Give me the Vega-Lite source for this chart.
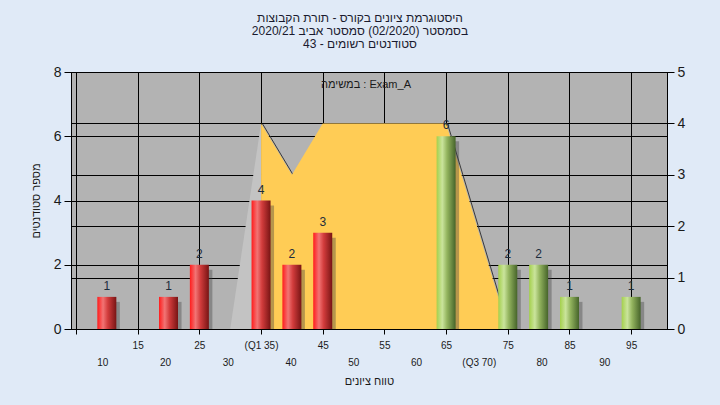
{
  "$schema": "https://vega.github.io/schema/vega-lite/v6.json",
  "autosize": "none",
  "width": 596,
  "height": 257,
  "padding": {"left": 71, "top": 72, "right": 53, "bottom": 76},
  "background": "#e0eaf7",
  "title": {
    "text": ["היסטוגרמת ציונים בקורס - תורת הקבוצות", "בסמסטר  (02/2020)  סמסטר אביב 2020/21", "סטודנטים רשומים - 43"],
    "font": "Liberation Sans",
    "fontSize": 12,
    "fontWeight": "normal",
    "color": "#1a1a2e",
    "lineHeight": 13,
    "anchor": "middle",
    "dx": -9,
    "offset": 14
  },
  "config": {
    "view": {"fill": "#b3b3b3", "stroke": "#000000", "strokeWidth": 1},
    "axis": {
      "labelFont": "Liberation Sans",
      "titleFont": "Liberation Sans",
      "labelColor": "#1a1a1a",
      "titleColor": "#1a1a1a",
      "titleFontWeight": "normal",
      "domainColor": "#000000",
      "tickColor": "#000000",
      "gridColor": "#000000",
      "gridOpacity": 1,
      "gridWidth": 1,
      "domainWidth": 1,
      "tickWidth": 1
    }
  },
  "datasets": {
    "bars": [
      {"score": 10, "count": 1, "group": "low"},
      {"score": 20, "count": 1, "group": "low"},
      {"score": 25, "count": 2, "group": "low"},
      {"score": 35, "count": 4, "group": "low"},
      {"score": 40, "count": 2, "group": "low"},
      {"score": 45, "count": 3, "group": "low"},
      {"score": 65, "count": 6, "group": "high"},
      {"score": 75, "count": 2, "group": "high"},
      {"score": 80, "count": 2, "group": "high"},
      {"score": 85, "count": 1, "group": "high"},
      {"score": 95, "count": 1, "group": "high"}
    ],
    "ramp": [
      {"score": 30, "value": 0},
      {"score": 35, "value": 4}
    ],
    "curve": [
      {"score": 35, "value": 4, "series": "במשימה : Exam_A"},
      {"score": 40, "value": 3, "series": "במשימה : Exam_A"},
      {"score": 45, "value": 4, "series": "במשימה : Exam_A"},
      {"score": 50, "value": 4, "series": "במשימה : Exam_A"},
      {"score": 55, "value": 4, "series": "במשימה : Exam_A"},
      {"score": 60, "value": 4, "series": "במשימה : Exam_A"},
      {"score": 65, "value": 4, "series": "במשימה : Exam_A"},
      {"score": 70, "value": 2, "series": "במשימה : Exam_A"},
      {"score": 75, "value": 0, "series": "במשימה : Exam_A"}
    ]
  },
  "layer": [
    {
      "layer": [
        {
          "layer": [
            {
              "data": {"name": "ramp"},
              "mark": {"type": "area", "color": "#c3c3c3", "interpolate": "linear"},
              "encoding": {
                "x": {"field": "score", "type": "quantitative"},
                "y": {"field": "value", "type": "quantitative"}
              }
            },
            {
              "data": {"name": "curve"},
              "mark": {"type": "line", "color": "#3a3a3a", "strokeWidth": 1, "xOffset": 1.5, "yOffset": 0.5},
              "encoding": {
                "x": {"field": "score", "type": "quantitative"},
                "y": {"field": "value", "type": "quantitative"}
              }
            },
            {
              "data": {"name": "curve"},
              "mark": {"type": "area", "interpolate": "linear", "opacity": 1},
              "encoding": {
                "x": {"field": "score", "type": "quantitative"},
                "y": {"field": "value", "type": "quantitative"},
                "color": {
                  "field": "series",
                  "type": "nominal",
                  "scale": {"range": ["#ffcc55"]},
                  "legend": {
                    "orient": "none",
                    "legendX": 239,
                    "legendY": 7,
                    "title": null,
                    "padding": 0,
                    "symbolSize": 0,
                    "symbolOpacity": 0,
                    "symbolStrokeWidth": 0,
                    "labelOffset": 0,
                    "labelFont": "Liberation Sans",
                    "labelFontSize": 11,
                    "labelColor": "#1a1a1a",
                    "labelLimit": 300
                  }
                }
              }
            }
          ],
          "encoding": {
            "x": {
              "field": "score",
              "type": "quantitative",
              "scale": {"domain": [5, 100], "nice": false, "zero": false}
            },
            "y": {
              "field": "value",
              "type": "quantitative",
              "scale": {"domain": [0, 5], "nice": false},
              "axis": {
                "orient": "right",
                "values": [0, 1, 2, 3, 4, 5],
                "title": null,
                "grid": true,
                "tickSize": 7,
                "labelPadding": 3,
                "labelFontSize": 14
              }
            }
          }
        },
        {
          "data": {"name": "bars"},
          "layer": [
            {
              "mark": {"type": "bar", "size": 18, "color": "#404040", "opacity": 0.38, "xOffset": 4, "yOffset": 5, "clip": true},
              "encoding": {
                "x": {"field": "score", "type": "quantitative"},
                "y": {"field": "count", "type": "quantitative"}
              }
            },
            {
              "transform": [{"filter": "datum.group == 'low'"}],
              "mark": {
                "type": "bar",
                "size": 19,
                "color": {
                  "gradient": "linear", "x1": 0, "x2": 1, "y1": 0, "y2": 0,
                  "stops": [
                    {"offset": 0, "color": "#ff1c1c"},
                    {"offset": 0.3, "color": "#f27474"},
                    {"offset": 0.55, "color": "#d23c3c"},
                    {"offset": 1, "color": "#781414"}
                  ]
                }
              },
              "encoding": {
                "x": {"field": "score", "type": "quantitative"},
                "y": {"field": "count", "type": "quantitative"}
              }
            },
            {
              "transform": [{"filter": "datum.group == 'high'"}],
              "mark": {
                "type": "bar",
                "size": 19,
                "color": {
                  "gradient": "linear", "x1": 0, "x2": 1, "y1": 0, "y2": 0,
                  "stops": [
                    {"offset": 0, "color": "#a4d04c"},
                    {"offset": 0.3, "color": "#cae49c"},
                    {"offset": 0.55, "color": "#93b45e"},
                    {"offset": 1, "color": "#46642a"}
                  ]
                }
              },
              "encoding": {
                "x": {"field": "score", "type": "quantitative"},
                "y": {"field": "count", "type": "quantitative"}
              }
            },
            {
              "mark": {"type": "text", "font": "Liberation Sans", "fontSize": 12, "color": "#1c2c3c", "baseline": "alphabetic", "dy": -7},
              "encoding": {
                "x": {"field": "score", "type": "quantitative"},
                "y": {"field": "count", "type": "quantitative"},
                "text": {"field": "count", "type": "quantitative"}
              }
            }
          ],
          "encoding": {
            "x": {
              "field": "score",
              "type": "quantitative",
              "scale": {"domain": [5, 100], "nice": false, "zero": false},
              "axis": {
                "orient": "bottom",
                "values": [5, 10, 15, 20, 25, 30, 35, 40, 45, 50, 55, 60, 65, 70, 75, 80, 85, 90, 95, 100],
                "labelExpr": "datum.value == 35 ? '(Q1 35)' : (datum.value % 10 == 5 && datum.value != 5 ? datum.label : '')",
                "labelOverlap": false,
                "labelFlush": false,
                "labelBound": false,
                "labelFontSize": 10,
                "labelBaseline": "top",
                "labelPadding": 6,
                "tickSize": 5,
                "grid": true,
                "title": null
              }
            },
            "y": {
              "field": "count",
              "type": "quantitative",
              "scale": {"domain": [0, 8], "nice": false},
              "axis": {
                "orient": "left",
                "values": [0, 2, 4, 6, 8],
                "title": "מספר סטודנטים",
                "titleFontSize": 11,
                "titlePadding": 12,
                "grid": true,
                "tickSize": 7,
                "labelPadding": 3,
                "labelFontSize": 14
              }
            }
          }
        }
      ],
      "resolve": {"scale": {"y": "independent", "color": "independent"}}
    },
    {
      "data": {"name": "bars"},
      "mark": {"type": "point", "opacity": 0},
      "encoding": {
        "x": {
          "field": "score",
          "type": "quantitative",
          "scale": {"domain": [5, 100], "nice": false, "zero": false},
          "axis": {
            "orient": "bottom",
            "values": [10, 20, 30, 40, 50, 60, 70, 80, 90],
            "labelExpr": "datum.value == 70 ? '(Q3 70)' : datum.label",
            "labelOverlap": false,
            "labelFlush": false,
            "labelBound": false,
            "labelFontSize": 10,
            "labelBaseline": "top",
            "labelPadding": 28,
            "ticks": false,
            "domain": false,
            "grid": false,
            "title": "טווח ציונים",
            "titleFontSize": 11,
            "titlePadding": 8
          }
        }
      }
    }
  ],
  "resolve": {"scale": {"x": "independent"}}
}
